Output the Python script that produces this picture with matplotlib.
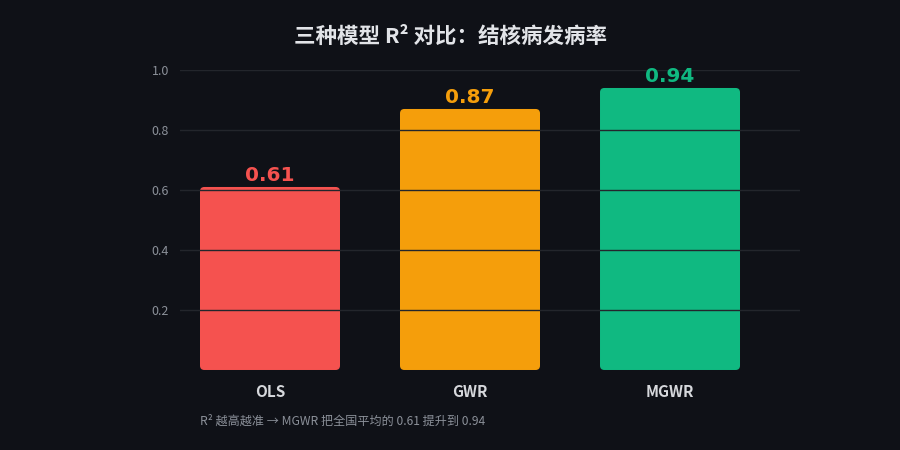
import matplotlib
matplotlib.use("Agg")
import matplotlib.pyplot as plt
from matplotlib.patches import FancyBboxPatch

categories = ["OLS", "GWR", "MGWR"]
r2_values = [0.61, 0.87, 0.94]
value_labels = ["0.61", "0.87", "0.94"]
bar_colors = ["#f5524f", "#f59e0b", "#10b981"]
y_ticks = [0.2, 0.4, 0.6, 0.8, 1.0]
title = "三种模型 R² 对比：结核病发病率"
footnote = "R² 越高越准 → MGWR 把全国平均的 0.61 提升到 0.94"

BG = "#0f1117"
FAM = ["Noto Sans CJK SC", "DejaVu Sans"]
plt.rcParams["font.family"] = FAM

fig = plt.figure(figsize=(9, 4.5), dpi=100, facecolor=BG)
ax = fig.add_axes([0.2, 0.1778, 0.6889, 0.6667], facecolor=BG)

xs = list(range(len(categories)))
width = 0.7
bars = ax.bar(xs, r2_values, width=width, color=bar_colors)
for b, c in zip(bars, bar_colors):
    b.set_visible(False)
    p = FancyBboxPatch((b.get_x(), 0), width, b.get_height(),
                       boxstyle="round,pad=0,rounding_size=0.022",
                       mutation_aspect=0.667, facecolor=c, edgecolor="none",
                       zorder=1)
    ax.add_patch(p)

for x, v, lab, c in zip(xs, r2_values, value_labels, bar_colors):
    ax.annotate(lab, (x, v), xytext=(0, 1.5), textcoords="offset points",
                ha="center", va="bottom", color=c, fontsize=14.5,
                fontweight="bold", family="DejaVu Sans", zorder=3)

ax.set_xlim(-0.45, 2.65)
ax.set_ylim(0, 1.0)
ax.set_yticks(y_ticks)
ax.set_yticklabels([f"{t:.1f}" for t in y_ticks])
ax.set_xticks(xs)
ax.set_xticklabels(categories)
ax.set_axisbelow(False)
ax.grid(axis="y", color="#23262c", linewidth=1.0)
ax.grid(axis="x", visible=False)
for s in ax.spines.values():
    s.set_visible(False)
ax.tick_params(axis="y", length=0, colors="#8b9099", labelsize=9, pad=8)
ax.tick_params(axis="x", length=0, colors="#d6d8dc", labelsize=11, pad=10)
for t in ax.get_xticklabels():
    t.set_fontweight("bold")

fig.text(0.5, 0.918, title, ha="center", va="center", color="#e2e4e8",
         fontsize=15.5, fontweight="bold")
fig.text(0.222, 0.064, footnote, ha="left", va="center", color="#8b9099",
         fontsize=8.7)

fig.savefig("out.png", dpi=100, facecolor=BG)
